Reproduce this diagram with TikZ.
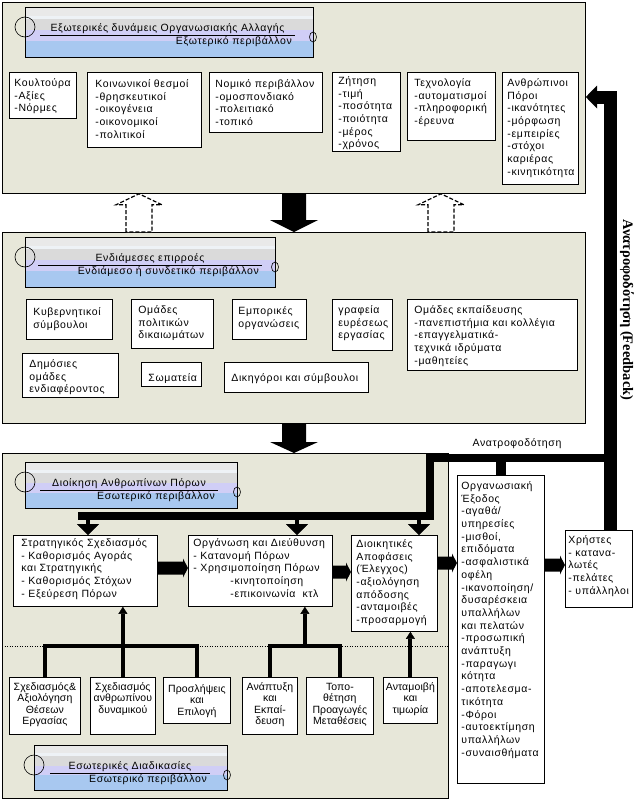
\documentclass[tikz,border=0pt]{standalone}
\usepackage{fontspec}
\setmainfont{Liberation Sans}[LetterSpace=6]
\newfontfamily\fbfont{Liberation Serif}
\usetikzlibrary{arrows.meta,calc}
\definecolor{panelbg}{RGB}{231,231,217}
\definecolor{tbA}{RGB}{233,233,233}
\definecolor{tbB}{RGB}{238,242,246}
\definecolor{tbC}{RGB}{218,218,218}
\definecolor{tbD}{RGB}{208,206,246}
\definecolor{tbE}{RGB}{168,200,240}
\tikzset{
 panel/.style={draw=black, fill=panelbg, line width=0.8pt, anchor=north west, inner sep=0pt},
 box/.style={draw=black, fill=white, line width=0.8pt, anchor=north west, inner sep=0pt, font=\fontsize{10.5}{12.7}\selectfont},
 ttext/.style={font=\fontsize{10.5}{12}\selectfont, inner sep=0pt},
 tree/.style={line width=4pt, line join=miter},
 uptip/.style={-{Triangle[width=9pt,length=7pt,line width=0.4pt]}},
 dtip/.style={line width=4pt, -{Triangle[width=22pt,length=11pt,line width=0.4pt]}},
 dotline/.style={line width=1pt, dash pattern=on 1pt off 1.5pt},
 hollow/.style={draw=black, line width=1.2pt, dash pattern=on 4pt off 2pt, fill=white},
}
\NewDocumentCommand{\mybox}{O{13} O{7} m m m m m m}{%
 \node[box] (#3) at (#4,#5) {\hspace*{#2pt}\parbox[b][\dimexpr #7pt-#5pt\relax][t]{\dimexpr #6pt-#4pt-#2pt\relax}{\raggedright\rule{0pt}{#1pt}#8}};}
\NewDocumentCommand{\mycbox}{O{13} m m m m m m}{%
 \node[box] (#2) at (#3,#4) {\parbox[b][\dimexpr #6pt-#4pt\relax][t]{\dimexpr #5pt-#3pt\relax}{\addfontfeatures{LetterSpace=1}\centering\baselineskip=11.5pt\rule{0pt}{#1pt}#7}};}
\newcommand{\titlebox}[9]{%
 \fill[tbA] (#2,#3) rectangle (#4,{#3+0.18*(#5-#3)});
 \fill[tbB] (#2,{#3+0.18*(#5-#3)}) rectangle (#4,{#3+0.24*(#5-#3)});
 \fill[tbC] (#2,{#3+0.24*(#5-#3)}) rectangle (#4,{#3+0.46*(#5-#3)});
 \fill[tbD] (#2,{#3+0.46*(#5-#3)}) rectangle (#4,{#3+0.67*(#5-#3)});
 \fill[tbE] (#2,{#3+0.67*(#5-#3)}) rectangle (#4,#5);
 \node[draw, line width=0.8pt, anchor=north west, inner sep=0pt, minimum width={#4pt-#2pt}, minimum height={#5pt-#3pt}] (#1) at (#2,#3) {};
 \draw[line width=0.6pt] (#8,{#3+28}) -- (#9,{#3+28});
 \node[ttext, anchor=base] (#1a) at ({(#8+#9)/2},{#3+24}) {#6};
 \node[ttext, anchor=base east] (#1b) at ({#9-3},{#3+37.5}) {#7};
 \draw[line width=0.6pt] (#2,{#3+20}) circle[radius=10pt];
 \draw[line width=0.6pt] (#4,{#3+30}) ellipse[x radius=3.5pt, y radius=5pt];
}
\newcommand{\rarrow}[2]{\fill let \p1=(#1), \p2=(#2) in (\x1,\y1+6.5pt) -- (\x2-5pt,\y1+6.5pt) -- (\x2-5pt,\y1+9.5pt) -- (\x2,\y1) -- (\x2-5pt,\y1-9.5pt) -- (\x2-5pt,\y1-6.5pt) -- (\x1,\y1-6.5pt) -- cycle;}
\begin{document}
\begin{tikzpicture}[x=1pt,y=-1pt]
\fill[white] (0,0) rectangle (636,801);
\useasboundingbox (0,0) rectangle (636,801);
% panels
\node[panel, minimum width=583pt, minimum height=191pt] (p1) at (2,2) {};
\node[panel, minimum width=583pt, minimum height=191pt] (p2) at (2,232) {};
\node[panel, minimum width=446pt, minimum height=345pt] (p3) at (2,453) {};
% arrows between panels
\coordinate (ax) at (294,0);
\coordinate (hx1) at (139,0);
\coordinate (hx2) at (441,0);
\fill let \p1=(p1.south -| ax), \p2=(p2.north -| ax) in (\x1-12pt,\y1) -- (\x1-12pt,\y2+12pt) -- (\x1-24pt,\y2+12pt) -- (\x1,\y2) -- (\x1+24pt,\y2+12pt) -- (\x1+12pt,\y2+12pt) -- (\x1+12pt,\y1) -- cycle;
\fill let \p1=(p2.south -| ax), \p2=(p3.north -| ax) in (\x1-12pt,\y1) -- (\x1-12pt,\y2+11pt) -- (\x1-24pt,\y2+11pt) -- (\x1,\y2) -- (\x1+24pt,\y2+11pt) -- (\x1+12pt,\y2+11pt) -- (\x1+12pt,\y1) -- cycle;
\draw[hollow] let \p1=(p2.north -| hx1), \p2=(p1.south -| hx1) in (\x1-13pt,\y1) -- (\x1-13pt,\y2-11pt) -- (\x1-23pt,\y2-11pt) -- (\x2,\y2) -- (\x1+23pt,\y2-11pt) -- (\x1+13pt,\y2-11pt) -- (\x1+13pt,\y1) -- cycle;
\draw[hollow] let \p1=(p2.north -| hx2), \p2=(p1.south -| hx2) in (\x1-13pt,\y1) -- (\x1-13pt,\y2-11pt) -- (\x1-23pt,\y2-11pt) -- (\x2,\y2) -- (\x1+23pt,\y2-11pt) -- (\x1+13pt,\y2-11pt) -- (\x1+13pt,\y1) -- cycle;
% title boxes
\titlebox{t1}{25}{7}{313}{57}{Εξωτερικές δυνάμεις Οργανωσιακής Αλλαγής}{Εξωτερικό περιβάλλον}{40}{295}
\titlebox{t2}{25}{237}{275}{287}{Ενδιάμεσες επιρροές}{Ενδιάμεσο ή συνδετικό περιβάλλον}{38}{262}
\titlebox{t3}{25}{462}{237}{508}{Διοίκηση Ανθρωπίνων Πόρων}{Εσωτερικό περιβάλλον}{40}{218}
\titlebox{t4}{34}{745}{227}{790}{Εσωτερικές Διαδικασίες}{Εσωτερικό περιβάλλον}{50}{210}
% panel 1 boxes
\mybox[14][5]{k1}{9}{72}{76}{118}{Κουλτούρα\\-Αξίες\\-Νόρμες}
\mybox[15][8]{k2}{87}{72}{201}{147}{Κοινωνικοί θεσμοί\\-θρησκευτικοί\\-οικογένεια\\-οικονομικοί\\-πολιτικοί}
\mybox[15][6]{k3}{209}{72}{322}{132}{Νομικό περιβάλλον\\-ομοσπονδιακό\\-πολειτιακό\\-τοπικό}
\mybox[12][6]{k4}{332}{72}{400}{151}{Ζήτηση\\-τιμή\\-ποσότητα\\-ποιότητα\\-μέρος\\-χρόνος}
\mybox[14][7]{k5}{407}{72}{495}{140}{Τεχνολογία\\-αυτοματισμοί\\-πληροφορική\\-έρευνα}
\mybox[14][5]{k6}{502}{72}{578}{184}{Ανθρώπινοι\\Πόροι\\-ικανότητες\\-μόρφωση\\-εμπειρίες\\-στόχοι\\καριέρας\\-κινητικότητα}
% panel 2 boxes
\mybox[16]{m1}{26}{299}{112}{339}{Κυβερνητικοί\\σύμβουλοι}
\mybox[14]{m2}{131}{299}{213}{348}{Ομάδες\\πολιτικών\\δικαιωμάτων}
\mybox[15][6]{m3}{232}{299}{306}{339}{Εμπορικές\\οργανώσεις}
\mybox[14][6]{m4}{332}{299}{392}{350}{γραφεία\\ευρέσεως\\εργασίας}
\mybox[14][7]{m5}{407}{299}{577}{370}{Ομάδες εκπαίδευσης\\-πανεπιστήμια και κολλέγια\\-επαγγελματικά-\\τεχνικά ιδρύματα\\-μαθητείες}
\mybox[14]{m6}{22}{353}{118}{397}{Δημόσιες\\ομάδες\\ενδιαφέροντος}
\mybox[19]{m7}{141}{362}{201}{386}{Σωματεία}
\mybox[19]{m8}{224}{362}{368}{392}{Δικηγόροι και σύμβουλοι}
% panel 3 boxes
\mybox[11][8]{s1}{13}{535}{157}{606}{Στρατηγικός Σχεδιασμός\\- Καθορισμός Αγοράς\\και Στρατηγικής\\- Καθορισμός Στόχων\\- Εξεύρεση Πόρων}
\mybox[11][5]{o1}{188}{535}{332}{606}{Οργάνωση και Διεύθυνση\\- Κατανομή Πόρων\\- Χρησιμοποίηση Πόρων\\\hspace*{37pt}-κινητοποίηση\\\hspace*{37pt}-επικοινωνία\ \ κτλ}
\mybox[12][5]{d1}{351}{535}{437}{631}{Διοικητικές\\Αποφάσεις\\(Έλεγχος)\\-αξιολόγηση\\απόδοσης\\-ανταμοιβές\\-προσαρμογή}
\mybox[14][4]{ex}{457}{475}{544}{783}{Οργανωσιακή\\Έξοδος\\-αγαθά/\\υπηρεσίες\\-μισθοί,\\επιδόματα\\-ασφαλιστικά\\οφέλη\\-ικανοποίηση/\\δυσαρέσκεια\\υπαλλήλων\\και πελατών\\-προσωπική\\ανάπτυξη\\-παραγωγι\\κότητα\\-αποτελεσμα-\\τικότητα\\-Φόροι\\-αυτοεκτίμηση\\υπαλλήλων\\-συναισθήματα}
\mybox[13][3]{xr}{565}{530}{632}{607}{Χρήστες\\-~κατανα-\\λωτές\\-πελάτες\\-~υπάλληλοι}
\mycbox{b1}{9}{677}{80}{734}{Σχεδιασμός\&\\Αξιολόγηση\\Θέσεων\\Εργασίας}
\mycbox{b2}{90}{677}{155}{734}{Σχεδιασμός\\ανθρωπίνου\\δυναμικού}
\mycbox[15]{b3}{163}{677}{230}{723}{Προσλήψεις\\και\\Επιλογή}
\mycbox{b4}{242}{677}{297}{734}{Ανάπτυξη\\και\\Εκπαί-\\δευση}
\mycbox{b5}{306}{677}{373}{734}{Τοπο-\\θέτηση\\Προαγωγές\\Μεταθέσεις}
\mycbox{b6}{383}{677}{437}{723}{Ανταμοιβή\\και\\τιμωρία}
% dotted separator and trees
\coordinate (dotY) at (0,646);
\draw[dotline] (p3.west |- dotY) -- (p3.east |- dotY);
\draw[tree] (b1.north) -- (b1.north |- dotY) -- (b3.north |- dotY) -- (b3.north);
\draw[tree, uptip] (b2.north) -- (b2.north |- s1.south);
\draw[tree] (b4.north) -- (b4.north |- dotY) -- (b5.north |- dotY) -- (b5.north);
\coordinate (g2) at ($(b4.north |- dotY)!0.5!(b5.north |- dotY)$);
\draw[tree, uptip] (g2) -- (g2 |- o1.south);
\draw[tree, uptip] (b6.north) -- (b6.north |- d1.south);
% block arrows between boxes
\coordinate (ay1) at (0,568);
\coordinate (ay2) at (0,572);
\coordinate (ay3) at (0,563);
\coordinate (ay4) at (0,565);
\rarrow{s1.east |- ay1}{o1.west |- ay1}
\rarrow{o1.east |- ay2}{d1.west |- ay2}
\rarrow{d1.east |- ay3}{ex.west |- ay3}
\rarrow{ex.east |- ay4}{xr.west |- ay4}
% feedback
\coordinate (fbc) at (610,97);
\coordinate (fbh) at (597,97);
\coordinate (fbj) at (610,458);
\coordinate (fbt) at (430,458);
\coordinate (dbr) at (430,516);
\coordinate (dbl) at (78,516);
\coordinate (a1) at (88,516);
\coordinate (a2) at (297,516);
\coordinate (a3) at (419,516);
\draw[line width=13pt, line join=miter] (xr.north -| fbc) -- (fbc) -- (fbh);
\fill let \p1=(fbh), \p2=(p1.east |- fbh) in (\x1,\y1+11.5pt) -- (\x2,\y2) -- (\x1,\y1-11.5pt) -- cycle;
\draw[line width=8pt, line join=miter] (fbj) -- (fbt) -- (dbr) -- (dbl);
\draw[line width=10pt] (ex.north |- fbj) -- (ex.north);
\draw[dtip] (a1) -- (a1 |- s1.north);
\draw[dtip] (a2) -- (a2 |- o1.north);
\draw[dtip] (a3) -- (a3 |- d1.north);
\node[ttext, anchor=base] (fbl1) at (517,446) {Ανατροφοδότηση};
\node[rotate=-90, inner sep=0pt, font=\fbfont\bfseries\fontsize{14.5}{16}\selectfont] (fbl2) at (627,310) {Ανατροφοδότηση (Feedback)};
\end{tikzpicture}
\end{document}
